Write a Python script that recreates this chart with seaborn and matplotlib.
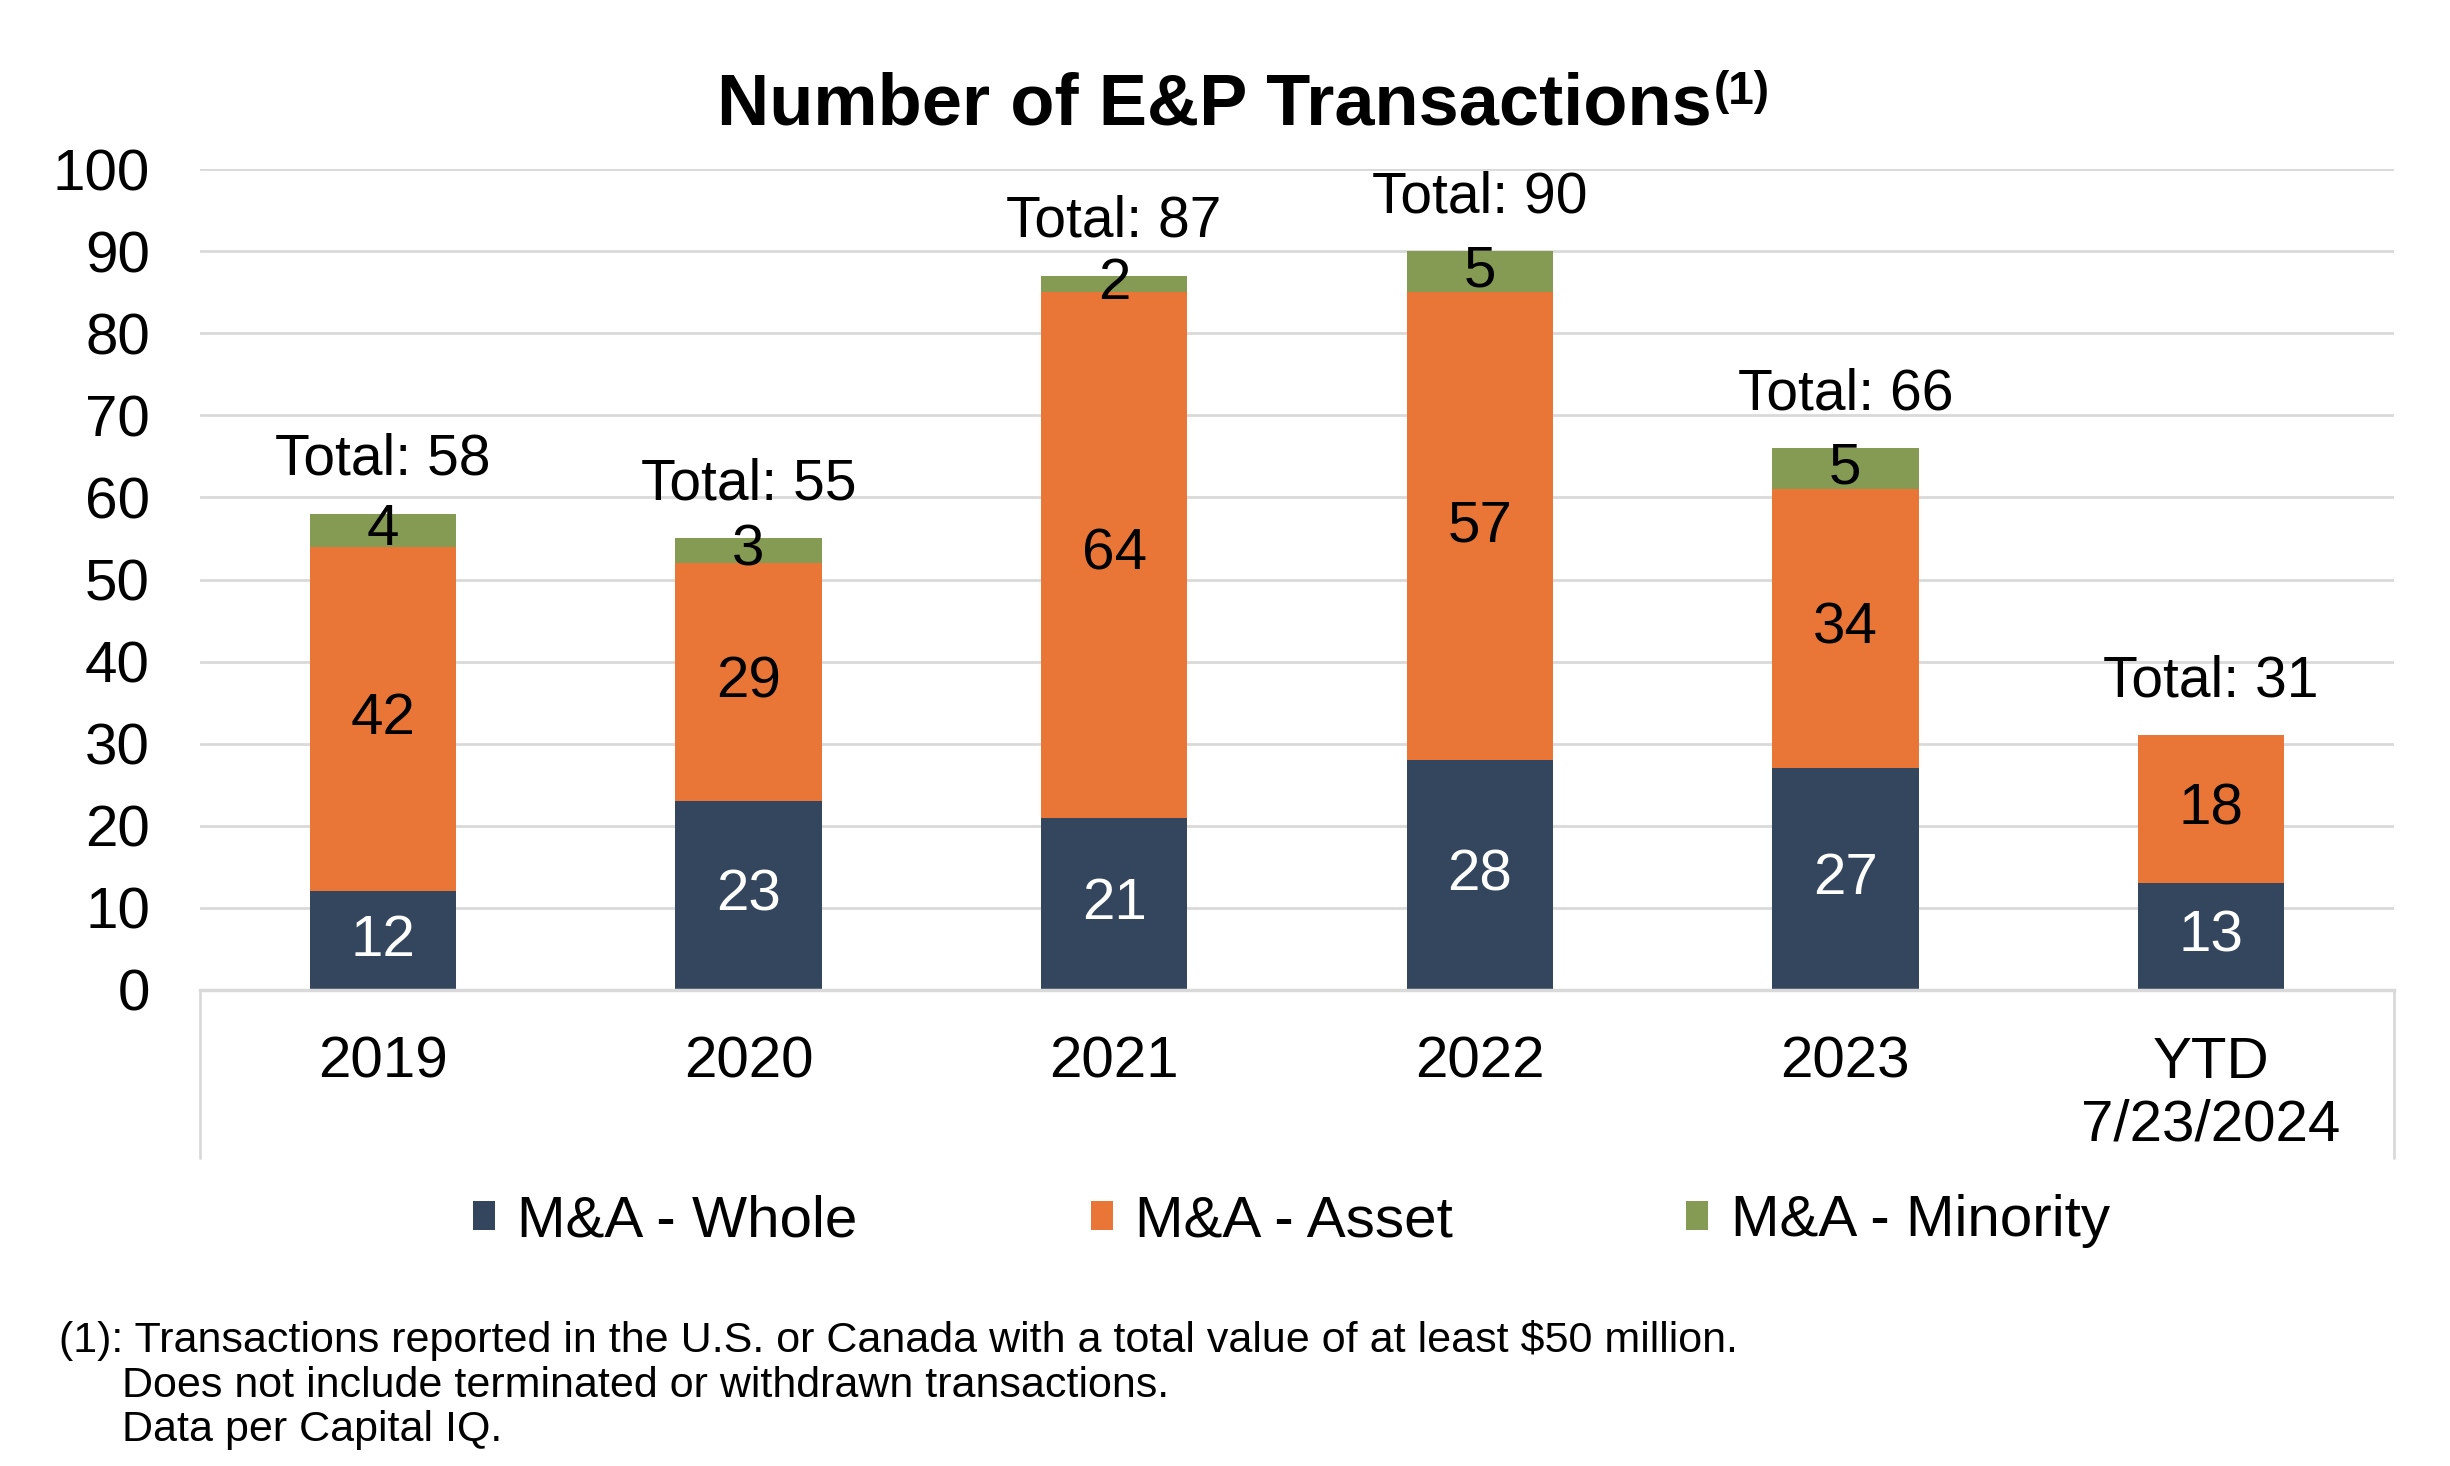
#!/usr/bin/env python3
import matplotlib

matplotlib.use("Agg")
import matplotlib.pyplot as plt
import pandas as pd
import seaborn as sns
from matplotlib.patches import Patch

# chart data
years = ["2019", "2020", "2021", "2022", "2023", "YTD\n7/23/2024"]
whole = [12, 23, 21, 28, 27, 13]
asset = [42, 29, 64, 57, 34, 18]
minority = [4, 3, 2, 5, 5, 0]
series_names = ["M&A - Whole", "M&A - Asset", "M&A - Minority"]
colors = ["#34465E", "#E97537", "#859A52"]
title = "Number of E&P Transactions"
footnote = [
    "(1): Transactions reported in the U.S. or Canada with a total value of at least $50 million.",
    "Does not include terminated or withdrawn transactions.",
    "Data per Capital IQ.",
]


def main():
    sns.set_theme(style="white")
    plt.rcParams["font.family"] = ["Liberation Sans", "DejaVu Sans"]
    plt.rcParams["text.color"] = "black"

    df = pd.DataFrame(
        {"year": years, "whole": whole, "asset": asset, "minority": minority}
    )
    df["lvl1"] = df["whole"]
    df["lvl2"] = df["whole"] + df["asset"]
    df["total"] = df["lvl2"] + df["minority"]

    fig = plt.figure(figsize=(24.5, 14.66), dpi=100)
    ax = fig.add_axes([0.0816, 0.3247, 0.8955, 0.56])

    # stacked bars: draw cumulative heights from the top down
    for col, color in zip(["total", "lvl2", "lvl1"], colors[::-1]):
        sns.barplot(
            data=df,
            x="year",
            y=col,
            color=color,
            width=0.4,
            saturation=1,
            errorbar=None,
            linewidth=0,
            ax=ax,
        )

    ax.set_ylim(0, 100)
    ax.set_xlim(-0.5, len(years) - 0.5)
    ax.set_yticks(range(0, 101, 10))
    ax.yaxis.grid(True, color="#D9D9D9", lw=2)
    ax.set_axisbelow(True)
    ax.set_xlabel("")
    ax.set_ylabel("")
    for s in ["top", "right", "left"]:
        ax.spines[s].set_visible(False)
    ax.spines["bottom"].set_color("#D9D9D9")
    ax.spines["bottom"].set_linewidth(2.5)
    ax.tick_params(axis="y", length=0, pad=36, labelsize=42, labelcolor="black")
    ax.tick_params(axis="x", length=0, pad=33, labelsize=42, labelcolor="black")

    # category axis edge lines below the plot
    tr = ax.get_xaxis_transform()
    for xe in [-0.5, len(years) - 0.5]:
        ax.plot([xe, xe], [0, -0.205], transform=tr, color="#D9D9D9", lw=2,
                clip_on=False)

    # segment labels
    for i in range(len(years)):
        bottom = 0
        for vals, tc in zip([whole, asset, minority], ["white", "black", "black"]):
            v = vals[i]
            if v > 0:
                ax.text(i, bottom + v / 2, str(v), ha="center", va="center",
                        color=tc, fontsize=42)
            bottom += v
        ax.annotate(f"Total: {df['total'][i]}", (i, df["total"][i]),
                    xytext=(0, 28), textcoords="offset points",
                    ha="center", va="baseline", fontsize=41, color="black")

    # title with superscript
    t1 = fig.text(0.5, 0.9154, title, ha="left", va="baseline",
                  fontsize=52, fontweight="bold", color="black")
    t2 = fig.text(0.5, 0.9154, "(1)", ha="left", va="baseline",
                  fontsize=33, fontweight="bold", color="black")
    fig.canvas.draw()
    r = fig.canvas.get_renderer()
    w1 = t1.get_window_extent(r).width
    w2 = t2.get_window_extent(r).width
    x0 = 1242 - (w1 + w2) / 2
    t1.set_x(x0 / 2450)
    t2.set_x((x0 + w1 + 2) / 2450)
    t2.set_y(0.9154 + 20 / 1466)

    handles = [Patch(facecolor=c, edgecolor="none") for c in colors]
    fig.legend(handles, series_names, loc="center", bbox_to_anchor=(0.527, 0.167),
               ncol=3, frameon=False, fontsize=42, labelcolor="black",
               handlelength=0.38, handleheight=0.38, handletextpad=0.38,
               columnspacing=4.0)

    fig.text(0.024, 0.0778, footnote[0], ha="left", va="baseline", fontsize=31)
    fig.text(0.0498, 0.047, footnote[1], ha="left", va="baseline", fontsize=31)
    fig.text(0.0498, 0.017, footnote[2], ha="left", va="baseline", fontsize=31)

    fig.savefig("out.png", dpi=100, facecolor="white")


if __name__ == "__main__":
    main()
